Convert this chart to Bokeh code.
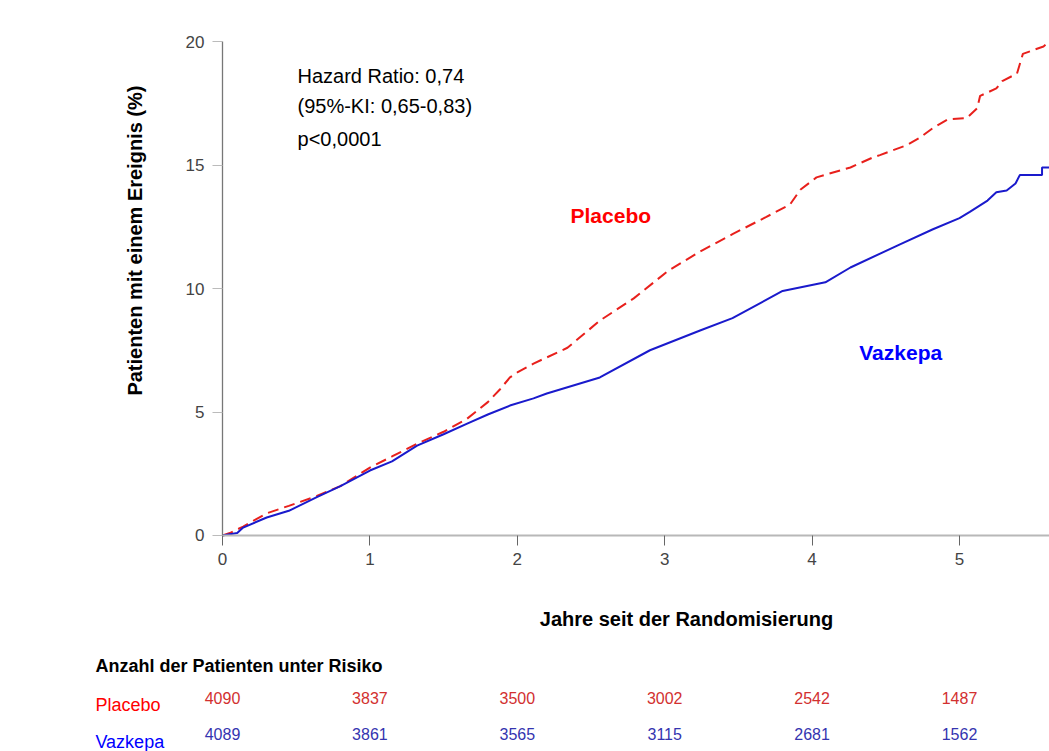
from bokeh.plotting import figure
from bokeh.models import Label, LabelSet, ColumnDataSource, FixedTicker, Range1d, LinearAxis
from bokeh.core.properties import value
from bokeh.embed import file_html
from bokeh.resources import INLINE

# ---- data ----
placebo_t = [0, 0.05, 0.14, 0.30, 0.45, 0.64, 0.80, 1.00, 1.15, 1.32, 1.50, 1.66, 1.80, 1.88,
             1.95, 2.00, 2.11, 2.34, 2.56, 2.79, 3.02, 3.24, 3.46, 3.69, 3.85, 3.92, 4.03,
             4.26, 4.41, 4.46, 4.64, 4.73, 4.82, 4.92, 5.05, 5.12, 5.14, 5.25, 5.29, 5.39,
             5.43, 5.57, 5.61]
placebo_y = [0, 0.10, 0.36, 0.90, 1.20, 1.60, 2.00, 2.75, 3.20, 3.72, 4.20, 4.73, 5.40, 5.90,
             6.40, 6.60, 6.96, 7.60, 8.70, 9.60, 10.70, 11.50, 12.20, 12.90, 13.40, 14.00, 14.50,
             14.90, 15.30, 15.40, 15.80, 16.10, 16.50, 16.85, 16.90, 17.30, 17.80, 18.10, 18.40, 18.70,
             19.50, 19.80, 20.00]

vazkepa_t = [0, 0.10, 0.14, 0.30, 0.45, 0.64, 0.80, 1.00, 1.15, 1.32, 1.50, 1.66, 1.80, 1.95,
             2.11, 2.20, 2.56, 2.90, 3.24, 3.46, 3.80, 4.09, 4.26, 4.60, 4.82, 5.00, 5.07,
             5.19, 5.25, 5.32, 5.38, 5.41, 5.56, 5.56, 5.61]
vazkepa_y = [0, 0.10, 0.32, 0.73, 1.00, 1.55, 2.00, 2.63, 3.00, 3.64, 4.10, 4.53, 4.90, 5.26,
             5.55, 5.75, 6.40, 7.50, 8.30, 8.80, 9.90, 10.25, 10.85, 11.80, 12.40, 12.85, 13.10,
             13.56, 13.90, 13.97, 14.25, 14.60, 14.60, 14.90, 14.90]

risk_years = [0, 1, 2, 3, 4, 5]
risk_placebo = ["4090", "3837", "3500", "3002", "2542", "1487"]
risk_vazkepa = ["4089", "3861", "3565", "3115", "2681", "1562"]

x_ticks = [0, 1, 2, 3, 4, 5]
y_ticks = [0, 5, 10, 15, 20]

stats_lines = ["Hazard Ratio: 0,74", "(95%-KI: 0,65-0,83)", "p<0,0001"]

FONT = "Liberation Sans"
RED = "#e8201c"
BLUE = "#1a1acc"

# frame covers the whole canvas; axes are pinned at x=0 / y=0
p = figure(width=1049, height=751, output_backend="svg", toolbar_location=None,
           x_range=Range1d(-1.5061, 5.6106), y_range=Range1d(-8.745, 21.66),
           x_axis_type=None, y_axis_type=None,
           min_border_left=0, min_border_right=0, min_border_top=0, min_border_bottom=0)
p.outline_line_color = None
p.grid.visible = False
p.background_fill_color = "white"
p.border_fill_color = "white"

xaxis = LinearAxis(fixed_location=0, ticker=FixedTicker(ticks=x_ticks), bounds=(0, 5.61))
yaxis = LinearAxis(fixed_location=0, ticker=FixedTicker(ticks=y_ticks), bounds=(0, 20))
for ax in (xaxis, yaxis):
    ax.major_tick_in = 0
    ax.major_tick_out = 10
    ax.minor_tick_line_color = None
    ax.major_label_text_font = FONT
    ax.major_label_text_font_size = "17px"
    ax.major_label_text_color = "#444444"
    ax.major_label_standoff = 8
xaxis.axis_line_color = "#b8b8b8"
xaxis.axis_line_width = 2
xaxis.major_tick_line_color = "#666666"
yaxis.axis_line_color = "#777777"
yaxis.axis_line_width = 1.3
yaxis.major_tick_line_color = "#bbbbbb"
p.add_layout(xaxis, "below")
p.add_layout(yaxis, "left")

# curves
p.line(placebo_t, placebo_y, line_color=RED, line_width=2, line_dash="11 6")
p.line(vazkepa_t, vazkepa_y, line_color=BLUE, line_width=2)

# statistics text
stats_y = [18.62, 17.37, 16.07]
for s, yy in zip(stats_lines, stats_y):
    p.add_layout(Label(x=0.509, y=yy, text=s, text_font=FONT,
                       text_font_size="20px", text_color="black", text_baseline="middle"))

p.add_layout(Label(x=2.361, y=12.96, text="Placebo", text_font=FONT, text_font_size="21px",
                   text_font_style="bold", text_color="#ff0000", text_baseline="middle"))
p.add_layout(Label(x=4.32, y=7.41, text="Vazkepa", text_font=FONT, text_font_size="21px",
                   text_font_style="bold", text_color="#0000ff", text_baseline="middle"))

# axis titles
p.add_layout(Label(x=-0.597, y=11.94, text="Patienten mit einem Ereignis (%)", angle=1.5708,
                   text_font=FONT, text_font_size="20px", text_font_style="bold",
                   text_align="center", text_baseline="middle", text_color="black"))
p.add_layout(Label(x=3.148, y=-3.38, text="Jahre seit der Randomisierung",
                   text_font=FONT, text_font_size="20px", text_font_style="bold",
                   text_align="center", text_baseline="middle", text_color="black"))

# risk table
p.add_layout(Label(x=-0.862, y=-5.30, text="Anzahl der Patienten unter Risiko",
                   text_font=FONT, text_font_size="18px", text_font_style="bold",
                   text_baseline="middle", text_color="black"))
p.add_layout(Label(x=-0.862, y=-6.88, text="Placebo", text_font=FONT, text_font_size="18px",
                   text_baseline="middle", text_color="#ff0000"))
p.add_layout(Label(x=-0.862, y=-8.38, text="Vazkepa", text_font=FONT, text_font_size="18px",
                   text_baseline="middle", text_color="#0000ff"))

src_p = ColumnDataSource(dict(x=risk_years, y=[-6.56] * len(risk_years), t=risk_placebo))
src_v = ColumnDataSource(dict(x=risk_years, y=[-8.04] * len(risk_years), t=risk_vazkepa))
p.add_layout(LabelSet(x="x", y="y", text="t", source=src_p, text_font=value(FONT),
                      text_font_size=value("16px"), text_color=value("#d23030"),
                      text_align="center", text_baseline="middle"))
p.add_layout(LabelSet(x="x", y="y", text="t", source=src_v, text_font=value(FONT),
                      text_font_size=value("16px"), text_color=value("#3434b0"),
                      text_align="center", text_baseline="middle"))

open("out.html", "w").write(file_html(p, INLINE))
